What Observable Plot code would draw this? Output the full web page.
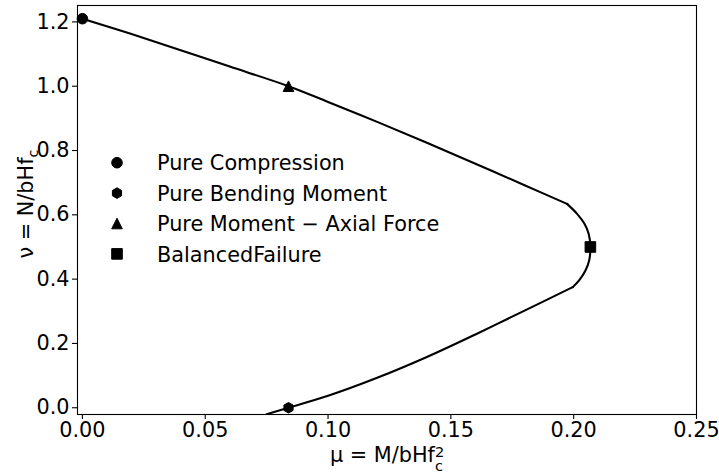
<!DOCTYPE html>
<html>
<head>
<meta charset="utf-8">
<script src="https://cdn.jsdelivr.net/npm/d3@7"></script>
<script src="https://cdn.jsdelivr.net/npm/@observablehq/plot@0.6"></script>
<style>
  body { margin: 0; background: #fff; }
  #chart svg { display: block; }
</style>
</head>
<body>
<div id="chart"></div>
<script>
// Interaction diagram (μ, ν) for a rectangular section, drawn in three branches
const upperMu = [0, 0.02, 0.04, 0.06, 0.0839, 0.10, 0.12, 0.14, 0.16, 0.18, 0.1973];
const upperNu = [1.21, 1.162, 1.112, 1.061, 1.0, 0.951, 0.889, 0.825, 0.759, 0.692, 0.634];
const arcMu = [0.1973, 0.2014, 0.2044, 0.2061, 0.2068, 0.2063, 0.2048, 0.2022, 0.1996];
const arcNu = [0.634, 0.603, 0.572, 0.541, 0.5, 0.458, 0.427, 0.396, 0.375];
const lowerMu = [0.1996, 0.18, 0.16, 0.14, 0.12, 0.10, 0.0839, 0.075];
const lowerNu = [0.375, 0.302, 0.228, 0.157, 0.093, 0.037, 0.0, -0.02];

// Characteristic points
const pointNames = ["Pure Compression", "Pure Bending Moment", "Pure Moment \u2212 Axial Force", "BalancedFailure"];
const pointMu = [0, 0.0839, 0.0839, 0.2068];
const pointNu = [1.21, 0, 1.0, 0.5];

// Axis ticks
const xTicks = [0, 0.05, 0.10, 0.15, 0.20, 0.25];
const yTicks = [0, 0.2, 0.4, 0.6, 0.8, 1.0, 1.2];

// Marker shapes (circle, pointy-top hexagon, triangle, square), size = π r²
const rad = (size) => Math.sqrt(size / Math.PI);
const symCircle = { draw(ctx, size) { const r = rad(size); ctx.moveTo(r, 0); ctx.arc(0, 0, r, 0, 2 * Math.PI); ctx.closePath(); } };
const symHexagon = { draw(ctx, size) {
  const r = rad(size);
  for (let i = 0; i < 6; ++i) {
    const a = -Math.PI / 2 + i * Math.PI / 3;
    const px = r * Math.cos(a), py = r * Math.sin(a);
    if (i === 0) ctx.moveTo(px, py); else ctx.lineTo(px, py);
  }
  ctx.closePath();
} };
const symTriangle = { draw(ctx, size) { const r = rad(size); ctx.moveTo(0, -r); ctx.lineTo(r, r); ctx.lineTo(-r, r); ctx.closePath(); } };
const symSquare = { draw(ctx, size) { const r = rad(size); ctx.rect(-r, -r, 2 * r, 2 * r); } };
const shapes = [symCircle, symHexagon, symTriangle, symSquare];

const curve = [
  ...upperMu.map((m, i) => ({mu: m, nu: upperNu[i], part: "upper"})),
  ...arcMu.map((m, i) => ({mu: m, nu: arcNu[i], part: "arc"})),
  ...lowerMu.map((m, i) => ({mu: m, nu: lowerNu[i], part: "lower"}))
];
const points = pointNames.map((name, i) => ({name, mu: pointMu[i], nu: pointNu[i]}));

const W = 719, H = 472;
const mL = 77, mR = 23, mT = 5, mB = 58;
const font = "DejaVu Sans";
const fs = 20.8;
const markerR = 5.3;

const chart = Plot.plot({
  width: W,
  height: H,
  marginLeft: mL,
  marginRight: mR,
  marginTop: mT,
  marginBottom: mB,
  style: { fontFamily: font, fontSize: fs + "px", background: "#fff", color: "#000", overflow: "visible" },
  x: { domain: [-0.002, 0.25], ticks: xTicks, tickFormat: d3.format(".2f"), tickSize: 5, tickPadding: 3, label: null },
  y: { domain: [-0.021, 1.251], ticks: yTicks, tickFormat: d3.format(".1f"), tickSize: 5, tickPadding: 3, label: null },
  symbol: { domain: pointNames, range: shapes },
  marks: [
    Plot.line(curve, { x: "mu", y: "nu", z: "part", curve: "catmull-rom", stroke: "#000", strokeWidth: 2.1, clip: true }),
    Plot.dot(points, { x: "mu", y: "nu", symbol: "name", r: markerR, fill: "#000", stroke: "#000", strokeWidth: 1 }),
    Plot.frame({ stroke: "#000", strokeWidth: 1.1 })
  ]
});

document.getElementById("chart").append(chart);

const svg = d3.select(chart);
svg.selectAll("[aria-label^='x-axis'] line, [aria-label^='y-axis'] line, [aria-label^='x-axis tick'] path, [aria-label^='y-axis tick'] path")
  .attr("stroke-width", 1.1);

// Axis titles with sub/superscripts
const xl = svg.append("text")
  .attr("x", 387).attr("y", 461.5)
  .attr("text-anchor", "middle")
  .attr("font-family", font).attr("font-size", fs).attr("fill", "#000");
xl.append("tspan").text("\u03bc = M/bHf");
xl.append("tspan").attr("font-size", 14.5).attr("dy", -5).text("2");
xl.append("tspan").attr("font-size", 14.5).attr("dx", -9).attr("dy", 14).text("c");

const yl = svg.append("text")
  .attr("transform", "translate(33,204) rotate(-90)")
  .attr("text-anchor", "middle")
  .attr("font-family", font).attr("font-size", fs).attr("fill", "#000");
yl.append("tspan").text("\u03bd = N/bHf");
yl.append("tspan").attr("font-size", 14.5).attr("dy", 5).text("c");

// Legend inside the axes
const legend = svg.append("g")
  .attr("font-family", font).attr("font-size", fs)
  .attr("text-anchor", "start");
pointNames.forEach((name, i) => {
  const cy = 162.7 + 30.4 * i;
  legend.append("path")
    .attr("transform", `translate(117,${cy})`)
    .attr("d", d3.symbol(shapes[i], Math.PI * markerR * markerR)())
    .attr("fill", "#000").attr("stroke", "#000").attr("stroke-width", 1);
  legend.append("text")
    .attr("x", 157).attr("y", cy + 7.6)
    .attr("text-anchor", "start")
    .attr("fill", "#000")
    .text(name);
});
</script>
</body>
</html>
